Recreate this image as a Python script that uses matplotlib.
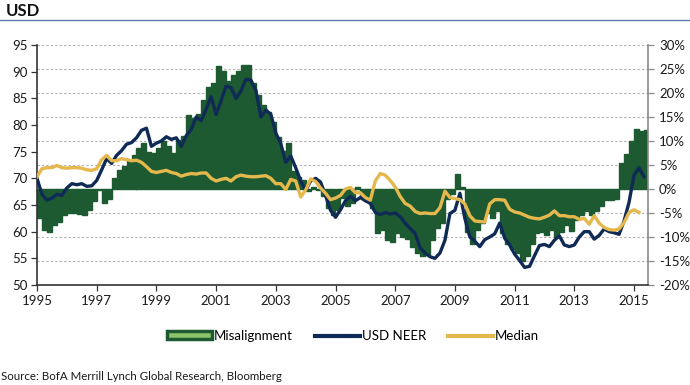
import numpy as np
import matplotlib
matplotlib.use("Agg")
import matplotlib.pyplot as plt
from matplotlib.patches import Patch
from matplotlib.lines import Line2D

# bimonthly observations starting Jan 1995 (6 per year)
start_year = 1995
step = 1 / 6

usd_neer = [
    70.0, 67.0, 65.9, 66.3, 67.0, 66.8,   # 1995
    68.2, 69.0, 68.8, 69.0, 68.5, 68.6,   # 1996
    69.6, 71.6, 73.7, 72.8, 74.3, 75.2,   # 1997
    76.4, 76.7, 77.6, 79.0, 79.4, 76.0,   # 1998
    76.6, 77.0, 77.8, 77.3, 77.6, 76.0,   # 1999
    78.0, 79.2, 81.5, 80.8, 83.0, 85.3,   # 2000
    82.0, 84.5, 87.3, 87.0, 85.0, 86.4,   # 2001
    88.6, 88.4, 86.5, 81.5, 82.8, 82.0,   # 2002
    78.5, 76.5, 73.0, 74.2, 72.0, 69.5,   # 2003
    67.8, 69.5, 70.0, 69.3, 66.8, 64.0,   # 2004
    62.7, 64.1, 65.8, 66.6, 65.8, 66.4,   # 2005
    65.8, 65.3, 63.6, 63.2, 63.6, 63.3,   # 2006
    63.5, 62.8, 61.6, 60.6, 59.7, 57.0,   # 2007
    56.0, 55.3, 55.0, 56.0, 58.4, 63.4,   # 2008
    64.0, 67.2, 62.5, 59.0, 58.2, 57.2,   # 2009
    58.5, 59.0, 59.6, 61.6, 58.8, 57.5,   # 2010
    55.8, 54.6, 53.3, 53.5, 55.5, 57.4,   # 2011
    57.6, 57.2, 58.4, 59.2, 57.5, 57.2,   # 2012
    57.5, 59.0, 60.0, 60.0, 58.6, 59.3,   # 2013
    60.5, 60.0, 59.8, 59.5, 62.0, 65.5,   # 2014
    70.6, 72.0, 70.3,                     # 2015
]

median = [
    70.3, 71.8, 72.0, 72.0, 72.4, 72.0,   # 1995
    71.9, 72.0, 72.0, 71.9, 71.6, 71.5,   # 1996
    71.8, 73.5, 74.3, 73.3, 73.3, 73.7,   # 1997
    73.5, 73.3, 73.4, 73.0, 72.2, 71.3,   # 1998
    71.1, 71.3, 71.5, 71.1, 70.9, 70.4,   # 1999
    70.7, 70.9, 70.8, 71.0, 71.0, 70.0,   # 2000
    69.5, 69.8, 70.0, 69.5, 70.3, 70.6,   # 2001
    70.4, 70.3, 70.3, 70.4, 70.5, 70.0,   # 2002
    69.0, 69.0, 67.9, 69.8, 69.5, 66.5,   # 2003
    67.8, 69.9, 69.4, 68.2, 67.2, 66.0,   # 2004
    66.3, 66.8, 68.0, 68.3, 67.3, 67.3,   # 2005
    66.4, 65.9, 69.5, 70.9, 70.6, 69.6,   # 2006
    68.4, 66.6, 65.3, 64.8, 63.8, 63.4,   # 2007
    63.5, 63.4, 63.4, 64.5, 67.6, 66.4,   # 2008
    66.2, 66.0, 65.2, 63.0, 62.0, 61.9,   # 2009
    61.8, 65.2, 66.0, 66.0, 65.9, 64.2,   # 2010
    63.7, 63.5, 63.1, 62.7, 62.5, 62.4,   # 2011
    62.7, 63.1, 63.9, 63.0, 63.0, 62.8,   # 2012
    62.8, 62.3, 62.5, 61.4, 63.0, 61.6,   # 2013
    60.8, 60.4, 60.3, 60.5, 61.7, 63.6,   # 2014
    64.1, 63.6, np.nan,                   # 2015
]

misalignment_pct = [
    -6.0, -8.5, -8.9, -7.5, -6.8, -5.5,   # 1995
    -5.1, -5.0, -5.3, -5.4, -4.4, -2.6,   # 1996
    -0.3, -3.0, -2.0, 2.2, 4.0, 4.8,      # 1997
    6.0, 7.1, 8.5, 9.5, 7.8, 7.5,         # 1998
    8.5, 9.9, 9.0, 7.5, 10.2, 11.0,       # 1999
    15.5, 14.7, 15.7, 18.5, 21.3, 22.0,   # 2000
    25.6, 24.5, 22.4, 23.8, 24.5, 25.8,   # 2001
    25.8, 22.0, 19.6, 17.5, 16.1, 14.0,   # 2002
    10.9, 8.0, 9.5, 3.8, 2.6, 1.9,        # 2003
    -0.5, 0.4, -0.2, -1.5, -4.0, -5.5,    # 2004
    -4.3, -1.9, -3.5, -3.0, 0.4, -1.8,    # 2005
    -2.6, -4.0, -9.2, -8.6, -10.7, -11.0, # 2006
    -9.2, -10.0, -10.5, -12.0, -13.3, -14.0,  # 2007
    -13.8, -10.7, -8.2, -7.0, -2.0, -1.0, # 2008
    3.2, 0.5, -9.0, -11.5, -8.5, -7.0,    # 2009
    -5.1, -6.0, -4.5, -9.2, -11.5, -12.5, # 2010
    -13.4, -15.0, -14.0, -11.5, -9.2, -8.9,   # 2011
    -9.5, -8.5, -10.0, -9.0, -7.5, -8.8,  # 2012
    -6.5, -5.5, -4.5, -5.4, -4.5, -3.5,   # 2013
    -2.3, -2.3, -2.0, 5.5, 7.2, 10.0,     # 2014
    12.6, 12.0, 12.3,                     # 2015
]

year_ticks = list(range(1995, 2016, 2))
left_ticks = list(range(50, 96, 5))
right_ticks = list(range(-20, 31, 5))

dates = start_year + np.arange(len(usd_neer)) * step

GREEN = "#1d5a32"
LIGHT_GREEN = "#8dc46a"
NAVY = "#0f2a55"
GOLD = "#e4b84c"
TXT = "#1a1a1a"

plt.rcParams["font.family"] = ["Lato", "DejaVu Sans"]

fig = plt.figure(figsize=(6.9, 3.85), dpi=100)
W, H = 690, 385
l, r, b, t = 37, 648, 285, 45
ax_bar = fig.add_axes([l / W, 1 - b / H, (r - l) / W, (b - t) / H])
ax_line = ax_bar.twinx()

# bars on percent scale (right)
ax_bar.bar(dates, misalignment_pct, width=step, align="edge", color=GREEN,
           edgecolor=GREEN, linewidth=1.0, zorder=2)
ax_bar.set_ylim(-20, 30)
ax_bar.set_yticks(right_ticks)
ax_bar.set_yticklabels([f"{v}%" for v in right_ticks])
ax_bar.yaxis.tick_right()
ax_bar.yaxis.set_label_position("right")
ax_bar.set_axisbelow(True)
ax_bar.grid(axis="y", color="#b0b0b0", linestyle=(0, (2, 2)), linewidth=0.8)

# lines on index scale (left)
ax_line.plot(dates, usd_neer, color=NAVY, lw=2.4, solid_joinstyle="round", zorder=3)
ax_line.plot(dates, median, color=GOLD, lw=2.4, solid_joinstyle="round", zorder=4)
ax_line.set_ylim(50, 95)
ax_line.set_yticks(left_ticks)
ax_line.yaxis.tick_left()
ax_line.yaxis.set_label_position("left")

ax_bar.set_xlim(1995, 1995 + (r - l) / 29.85)
ax_bar.set_xticks(year_ticks)
ax_bar.set_xticklabels([str(y) for y in year_ticks])

for ax in (ax_bar, ax_line):
    ax.spines["top"].set_visible(False)
    ax.tick_params(labelsize=9.5, colors=TXT, length=4, width=0.9)
ax_line.spines["left"].set_color("#333333")
ax_line.spines["left"].set_linewidth(1.2)
ax_line.spines["right"].set_color("#8a8a8a")
ax_line.spines["right"].set_linewidth(1.2)
ax_line.spines["bottom"].set_color("#333333")
ax_line.spines["bottom"].set_linewidth(1.2)
for s in ("left", "right", "bottom"):
    ax_bar.spines[s].set_visible(False)
ax_bar.tick_params(axis="y", colors="#8a8a8a", labelcolor=TXT, pad=4)
ax_bar.tick_params(axis="x", colors="#333333", labelcolor=TXT, pad=3)
ax_line.tick_params(axis="y", colors="#333333", labelcolor=TXT, pad=3)

# legend
mis_handle = Patch(facecolor=LIGHT_GREEN, edgecolor=GREEN, linewidth=2.5)
neer_handle = Line2D([], [], color=NAVY, lw=3)
med_handle = Line2D([], [], color=GOLD, lw=3)
fig.legend([mis_handle, neer_handle, med_handle], ["Misalignment", "USD NEER", "Median"],
           loc="center", bbox_to_anchor=(353 / W, 1 - 336 / H), ncol=3, frameon=False,
           fontsize=9.5, handlelength=3.4, handletextpad=0.15, columnspacing=1.7,
           handleheight=0.55)

# title and separator
fig.text(6 / W, 1 - 11 / H, "USD", fontsize=12, fontweight="bold", color="#111111",
         va="center", ha="left")
fig.add_artist(Line2D([0, 1], [1 - 20 / H, 1 - 20 / H], color="#5b7bb0", lw=1.0,
                      transform=fig.transFigure))
fig.text(1 / W, 1 - 377 / H, "Source: BofA Merrill Lynch Global Research, Bloomberg",
         fontsize=8.3, color=TXT, va="center", ha="left")

fig.savefig("out.png", dpi=100)
